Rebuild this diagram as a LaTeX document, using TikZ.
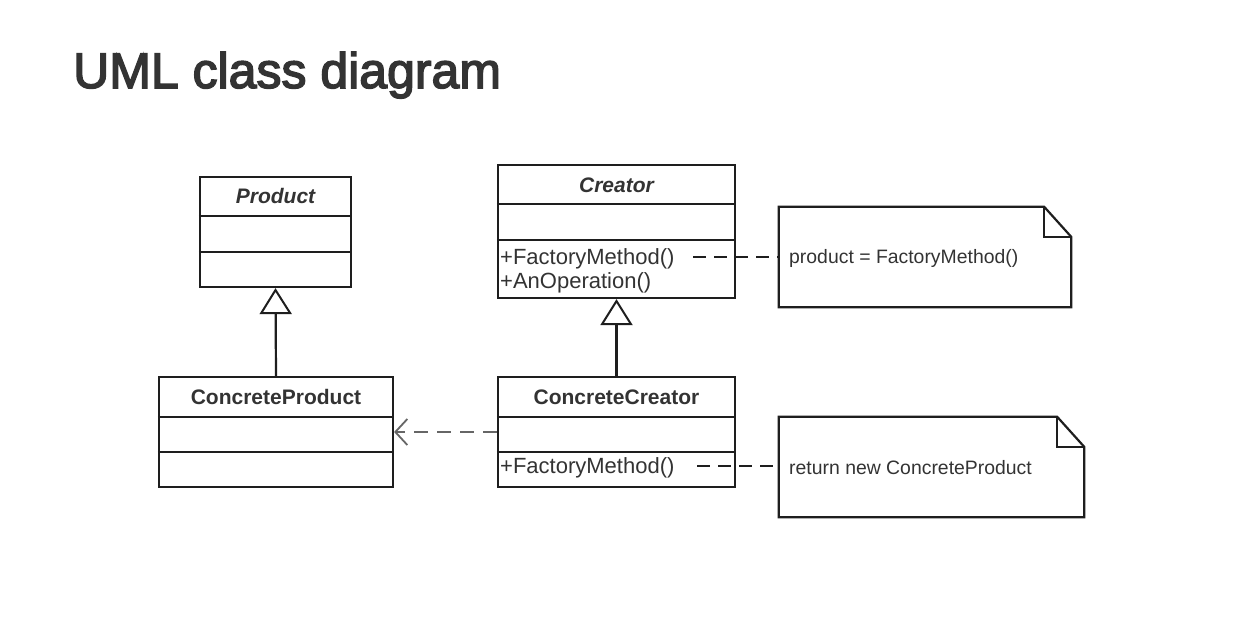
\documentclass[tikz,border=0pt]{standalone}
\usepackage{fontspec}
\setmainfont{Liberation Sans}
\newfontfamily\titlefont[FakeBold=3]{Liberation Sans}
\usetikzlibrary{arrows.meta}
\definecolor{ink}{HTML}{1E1E1E}
\definecolor{txt}{HTML}{333333}
\definecolor{dep}{HTML}{666666}
\begin{document}
\begin{tikzpicture}[x=1pt,y=-1pt,
 classbox/.style={draw=ink, line width=2.2pt, inner sep=0, fill=white},
 divider/.style={draw=ink, line width=2pt},
 classname/.style={font=\fontsize{21}{24}\selectfont\bfseries, text=txt, inner sep=0},
 abstractname/.style={font=\fontsize{21}{24}\selectfont\bfseries\itshape, text=txt, inner sep=0},
 member/.style={font=\fontsize{22}{24}\selectfont, text=txt, inner sep=0, anchor=west},
 notetext/.style={font=\fontsize{19.4}{22}\selectfont, text=txt, inner sep=0, anchor=west},
 inherit/.style={draw=ink, line width=2.2pt, -{Triangle[open, length=26pt, width=32pt, line width=2pt]}},
 depend/.style={draw=dep, line width=2.2pt, dash pattern=on 14pt off 9pt, -{Straight Barb[length=12pt, width=26pt, line width=1.8pt]}},
 anchorline/.style={draw=ink, line width=2pt, dash pattern=on 13pt off 8pt},
 noteshape/.style={draw=ink, line width=2.2pt, line join=miter},
 notebox/.style={inner sep=0, minimum height=100pt}
]
\fill[white] (0,0) rectangle (1244,618);
\useasboundingbox (0,0) rectangle (1244,618);

% title
\node[font=\titlefont\fontsize{50}{56}\selectfont, text=txt, anchor=base west, inner sep=0] (title) at (73,88) {UML class diagram};

% class boxes
\node[classbox, minimum width=151pt, minimum height=110pt] (product) at (275.5,232) {};
\node[classbox, minimum width=234pt, minimum height=110pt] (cproduct) at (276,432) {};
\node[classbox, minimum width=237pt, minimum height=133pt] (creator) at (616.5,231.5) {};
\node[classbox, minimum width=237pt, minimum height=110pt] (ccreator) at (616.5,432) {};

\draw[divider] (product.west |- 0,216) -- (product.east |- 0,216);
\draw[divider] (product.west |- 0,252) -- (product.east |- 0,252);
\draw[divider] (cproduct.west |- 0,417) -- (cproduct.east |- 0,417);
\draw[divider] (cproduct.west |- 0,452) -- (cproduct.east |- 0,452);
\draw[divider] (creator.west |- 0,204) -- (creator.east |- 0,204);
\draw[divider] (creator.west |- 0,240) -- (creator.east |- 0,240);
\draw[divider] (ccreator.west |- 0,417) -- (ccreator.east |- 0,417);
\draw[divider] (ccreator.west |- 0,452) -- (ccreator.east |- 0,452);

% class texts
\node[abstractname] (productname) at (275.5,196) {Product};
\node[classname] (cproductname) at (276,397) {ConcreteProduct};
\node[abstractname] (creatorname) at (616.5,185) {Creator};
\node[classname] (ccreatorname) at (616.5,397) {ConcreteCreator};
\node[member] (fm1) at (500,259) {+FactoryMethod()};
\node[member] (anop) at (500,283) {+AnOperation()};
\node[member] (fm2) at (500,468) {+FactoryMethod()};

% notes
\node[notebox, minimum width=292pt] (note1) at (925,257) {};
\node[notebox, minimum width=305pt] (note2) at (931.5,467) {};
\draw[noteshape] (note1.south west) -- (note1.north west) -- ([xshift=-27pt]note1.north east) -- ([yshift=-30pt]note1.north east) -- (note1.south east) -- cycle;
\draw[noteshape] ([xshift=-27pt]note1.north east) -- ([xshift=-27pt,yshift=-30pt]note1.north east) -- ([yshift=-30pt]note1.north east);
\draw[noteshape] (note2.south west) -- (note2.north west) -- ([xshift=-27pt]note2.north east) -- ([yshift=-30pt]note2.north east) -- (note2.south east) -- cycle;
\draw[noteshape] ([xshift=-27pt]note2.north east) -- ([xshift=-27pt,yshift=-30pt]note2.north east) -- ([yshift=-30pt]note2.north east);
\node[notetext] (n1text) at (789,258) {product = FactoryMethod()};
\node[notetext] (n2text) at (789,468) {return new ConcreteProduct};

% connectors
\draw[inherit] (cproduct.north) -- (product.south);
\draw[inherit] (ccreator.north) -- (creator.south);
\draw[depend] (ccreator.west) -- (cproduct.east);
\coordinate (d1) at (693,257);
\coordinate (d2) at (697,466);
\draw[anchorline] (d1) -- (note1.west);
\draw[anchorline] (d2) -- (d2 -| note2.west);
\end{tikzpicture}
\end{document}
